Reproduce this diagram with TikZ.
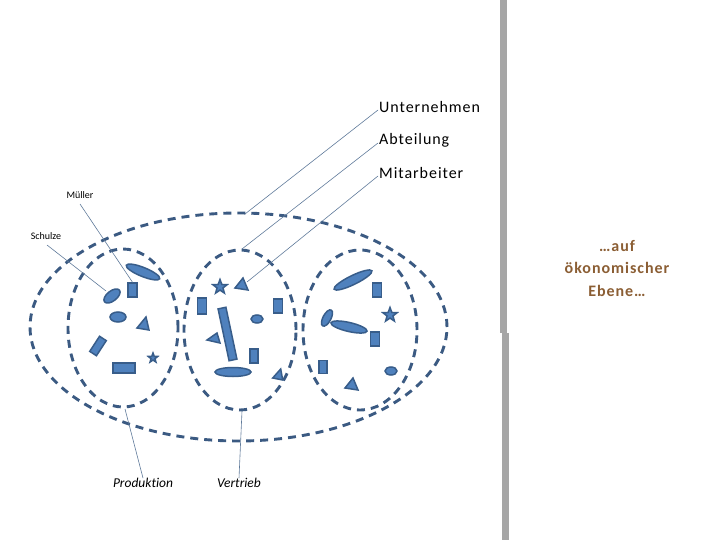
\documentclass[tikz,border=0pt]{standalone}
\usepackage{fontspec}
\setmainfont[Ligatures=NoCommon]{Carlito}
\newfontfamily\widefont[LetterSpace=6]{Carlito}
\usetikzlibrary{shapes.geometric}
\definecolor{fillb}{HTML}{4F81BD}
\definecolor{edgeb}{HTML}{385D8A}
\definecolor{dashb}{HTML}{3B5A82}
\definecolor{lineb}{HTML}{5F7A9A}
\definecolor{brownt}{HTML}{8B5E34}
\definecolor{barg}{HTML}{A6A6A6}
\begin{document}
\begin{tikzpicture}[x=1pt,y=-1pt,
  grp/.style={draw=dashb, line width=2.9pt, dash pattern=on 8pt off 6pt, ellipse, inner sep=0pt},
  obj/.style={draw=edgeb, fill=fillb, line width=1.5pt, inner sep=0pt},
  oval/.style={obj, ellipse},
  box/.style={obj, rectangle},
  starx/.style={obj, star, star points=5, star point ratio=2.4},
  conn/.style={draw=lineb, line width=0.6pt},
  lbl/.style={inner sep=1pt, font=\widefont\fontsize{16}{19}\selectfont, anchor=west},
  small/.style={inner sep=0pt, font=\fontsize{10}{12}\selectfont},
  ital/.style={inner sep=0pt, font=\fontsize{13.5}{16}\selectfont\itshape}]
\useasboundingbox (0,0) rectangle (720,540);

% grey bar
\fill[barg] (500,0) rectangle (507,333);
\fill[barg] (502,333) rectangle (509,540);

% groups
\node[grp, minimum width=417, minimum height=228] (outer) at (238.5,327) {};
\node[grp, minimum width=110, minimum height=158] (left) at (123,328) {};
\node[grp, minimum width=112, minimum height=160] (mid) at (240,330) {};
\node[grp, minimum width=114, minimum height=160] (right) at (360,330) {};

% left group shapes
\node[oval, minimum width=36, minimum height=9, rotate=-22] (l1) at (143,272) {};
\node[box, minimum width=9, minimum height=14] (mueller) at (132.5,290) {};
\node[oval, minimum width=19, minimum height=10, rotate=38] (schulze) at (112,296) {};
\node[oval, minimum width=16, minimum height=10] (l2) at (118,317) {};
\draw[obj] (137,328) -- (149,330) -- (146,317) -- cycle;
\node[box, minimum width=18, minimum height=8, rotate=57] (l3) at (98,346) {};
\node[box, minimum width=22, minimum height=10] (l4) at (124,368) {};
\node[starx, minimum size=10] (l5) at (153,358) {};

% middle group shapes
\node[starx, minimum size=15] (m1) at (220,287) {};
\draw[obj] (235,288) -- (248,290) -- (243,278) -- cycle;
\node[box, minimum width=9, minimum height=16] (m2) at (202,306) {};
\node[box, minimum width=9, minimum height=14] (m3) at (278,306) {};
\node[box, minimum width=53, minimum height=8, rotate=102] (m4) at (227.5,334) {};
\node[oval, minimum width=12, minimum height=8] (m5) at (257,319) {};
\draw[obj] (207,340) -- (220,343) -- (217,333) -- cycle;
\node[box, minimum width=8, minimum height=14] (m6) at (254,356) {};
\node[oval, minimum width=36, minimum height=9] (m7) at (233,372) {};
\draw[obj] (272.7,378) -- (282.7,380) -- (280.7,369) -- cycle;

% right group shapes
\node[oval, minimum width=42, minimum height=9, rotate=26] (r1) at (353,280) {};
\node[box, minimum width=9, minimum height=14] (r2) at (377,290) {};
\node[oval, minimum width=18, minimum height=8, rotate=62] (r3) at (327,318) {};
\node[starx, minimum size=15] (r4) at (390,315) {};
\node[oval, minimum width=37, minimum height=9, rotate=-13] (r5) at (349,327) {};
\node[box, minimum width=9, minimum height=14] (r6) at (375,339) {};
\node[box, minimum width=8, minimum height=13] (r7) at (323,367) {};
\node[oval, minimum width=12, minimum height=8] (r8) at (391,371) {};
\draw[obj] (345,388) -- (358,390) -- (353,378) -- cycle;

% labels
\node[lbl] (unt) at (378,107) {Unternehmen};
\node[lbl] (abt) at (378,140) {Abteilung};
\node[lbl] (mit) at (378,173) {Mitarbeiter};
\node[small] (mlab) at (80,195) {Müller};
\node[small] (slab) at (46,236) {Schulze};
\node[ital] (prod) at (143,483) {Produktion};
\node[ital] (vert) at (239,483) {Vertrieb};
\node[align=center, text=brownt, inner sep=0pt,
      font=\widefont\fontsize{16}{22.5}\selectfont\bfseries] (eco) at (617,268)
      {…auf\\ökonomischer\\Ebene…};

% connector end points
\coordinate (uEnd) at (245,214);
\coordinate (aEnd) at (242,249);
\coordinate (mEnd) at (247,282);
\coordinate (sEnd) at (106,291);
\coordinate (mStart) at (80,204);
\coordinate (sStart) at (47,245);
\coordinate (pEnd) at (125,409);
\coordinate (vEnd) at (242,411);

\draw[conn] ([yshift=-3pt]unt.west) -- (uEnd);
\draw[conn] ([yshift=-3pt]abt.west) -- (aEnd);
\draw[conn] ([yshift=-3pt]mit.west) -- (mEnd);
\draw[conn] (mStart) -- (mueller.north);
\draw[conn] (sStart) -- (sEnd);
\draw[conn] (prod.north) -- (pEnd);
\draw[conn] (vert.north) -- (vEnd);
\end{tikzpicture}
\end{document}
